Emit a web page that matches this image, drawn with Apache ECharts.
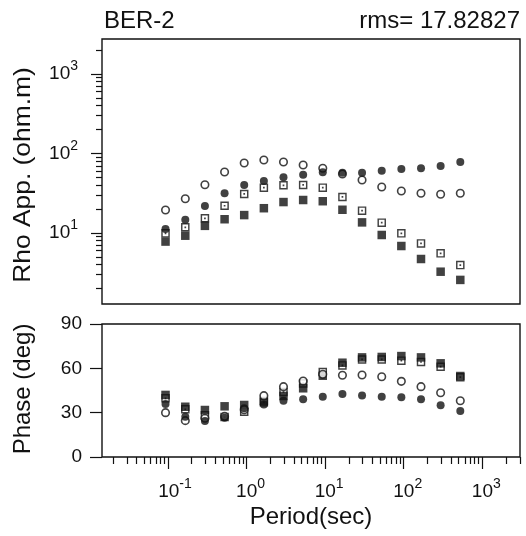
<!DOCTYPE html>
<html><head><meta charset="utf-8">
<script src="https://cdn.jsdelivr.net/npm/echarts@6/dist/echarts.min.js"></script>
<style>html,body{margin:0;padding:0;background:#fff}#c{width:526px;height:536px}</style>
</head><body><div id="c"></div>
<script>
// ---- data ----
const periods = [0.093,0.166,0.295,0.525,0.933,1.66,2.95,5.25,9.33,16.6,29.5,52.5,93.3,166,295,525];
const rhoOpenCircle   = [19.5,27.0,40.5,58.5,76.0,82.9,78.2,71.6,65.2,55.2,46.4,37.9,33.8,31.6,30.7,31.6];
const rhoFilledCircle = [11.2,14.7,21.9,31.6,40.2,45.1,50.2,54.1,58.0,57.3,57.3,60.8,63.8,65.2,69.7,78.2];
const rhoOpenSquare   = [9.9,11.8,15.3,22.0,31.0,37.2,39.8,40.2,37.2,28.4,19.1,13.5,9.9,7.4,5.55,3.95];
const rhoFilledSquare = [7.8,9.25,12.3,14.9,16.8,20.5,24.5,26.0,25.1,19.6,13.6,9.44,6.86,4.71,3.26,2.57];
const phaseOpenCircle   = [30,24.6,26.2,27.5,32,41.5,47.6,51.4,56,55.3,55.5,54.3,51.2,47.6,43.5,38.1];
const phaseFilledCircle = [35.9,27.3,24.4,26.6,33,35.6,38.1,39.0,40.8,42.6,41.7,40.8,40.4,39.0,35.0,31.1];
const phaseOpenSquare   = [39.7,32.3,28.2,27,30.7,37,44,49.8,57.5,62,66,66,65.2,64.3,61.1,54];
const phaseFilledSquare = [42,34,31.8,34.3,35.2,37.9,41.3,46.5,55,63.8,67.4,67.7,68.3,67.4,63.4,54.8];
const xDecades = [-1,0,1,2,3];       // period tick labels 10^n
const rhoDecades = [1,2,3];          // rho tick labels 10^n
const phaseTicks = [0,30,60,90];
const titleLeft = 'BER-2';
const titleRight = 'rms= 17.82827';

// ---- layout ----
const xMin = -1.84, xMax = 3.48, yMin = 0.107, yMax = 3.44;
const FONT = 'Liberation Sans';
const INK = '#111';

function minorLogs(lo, hi) {
  const out = [];
  for (let n = -3; n <= 4; n++) for (let k = 2; k <= 9; k++) {
    const v = n + Math.log10(k);
    if (v > lo && v < hi) out.push(v);
  }
  return out;
}
const lg = v => Math.log10(v);
const rhoPts = arr => periods.map((p, i) => [lg(p), lg(arr[i])]);
const phPts = arr => periods.map((p, i) => [lg(p), arr[i]]);

const sqDot = 'path://M0,0H10V10H0Z M1.7,1.7V8.3H8.3V1.7Z M4,4H6V6H4Z';

const richY = {
  b: {fontFamily: FONT, fontSize: 19, color: INK},
  s: {fontFamily: FONT, fontSize: 14, color: INK, padding: [0, 0, 15, 0]}
};
const richX = {
  bn: {fontFamily: FONT, fontSize: 19, color: INK, padding: [0, 0, 0, 14]},
  bp: {fontFamily: FONT, fontSize: 19, color: INK, padding: [0, 0, 0, 8]},
  s: {fontFamily: FONT, fontSize: 14, color: INK, padding: [0, 0, 15, 0]}
};
const tickStyle = {color: INK, width: 1.2};
const noLine = {show: false, onZero: false};

const chart = echarts.init(document.getElementById('c'));
const mk = (name, xi, yi, data, symbol, size, color, border) => ({
  name, type: 'scatter', xAxisIndex: xi, yAxisIndex: yi, data, symbol, symbolSize: size,
  silent: true, animation: false,
  itemStyle: border ? {color: '#fff', borderColor: INK, borderWidth: 1.6} : {color: color}
});

chart.setOption({
  animation: false,
  backgroundColor: '#fff',
  grid: [
    {left: 102, top: 39, width: 418, height: 265, show: true, borderColor: INK, borderWidth: 1.4, containLabel: false},
    {left: 102, top: 324, width: 418, height: 133, show: true, borderColor: INK, borderWidth: 1.4, containLabel: false}
  ],
  xAxis: [
    {gridIndex: 0, type: 'value', min: xMin, max: xMax, axisLine: noLine, axisTick: {show: false}, axisLabel: {show: false}, splitLine: {show: false}},
    {gridIndex: 1, type: 'value', min: xMin, max: xMax, position: 'bottom', axisLine: noLine,
      axisTick: {show: true, inside: false, length: 12, customValues: xDecades, lineStyle: tickStyle},
      axisLabel: {customValues: xDecades, margin: 20, rich: richX,
        formatter: v => { const e = Math.round(v); return (e < 0 ? '{bn|10}' : '{bp|10}') + '{s|' + e + '}'; }},
      splitLine: {show: false}},
    {gridIndex: 1, type: 'value', min: xMin, max: xMax, position: 'bottom', axisLine: noLine,
      axisTick: {show: true, inside: false, length: 7, customValues: minorLogs(xMin, xMax), lineStyle: tickStyle},
      axisLabel: {show: false}, splitLine: {show: false}}
  ],
  yAxis: [
    {gridIndex: 0, type: 'value', min: yMin, max: yMax, position: 'left', axisLine: noLine,
      axisTick: {show: true, inside: false, length: 11, customValues: rhoDecades, lineStyle: tickStyle},
      axisLabel: {customValues: rhoDecades, margin: 24, rich: richY,
        formatter: v => '{b|10}{s|' + Math.round(v) + '}'},
      splitLine: {show: false}},
    {gridIndex: 0, type: 'value', min: yMin, max: yMax, position: 'left', axisLine: noLine,
      axisTick: {show: true, inside: false, length: 6, customValues: minorLogs(yMin, yMax), lineStyle: tickStyle},
      axisLabel: {show: false}, splitLine: {show: false}},
    {gridIndex: 1, type: 'value', min: 0, max: 90, interval: 30, position: 'left', axisLine: noLine,
      axisTick: {show: true, inside: false, length: 12, customValues: phaseTicks, lineStyle: tickStyle},
      axisLabel: {customValues: phaseTicks, margin: 20, fontFamily: FONT, fontSize: 19, color: INK},
      splitLine: {show: false}}
  ],
  series: [
    mk('rho open square', 0, 0, rhoPts(rhoOpenSquare), sqDot, 8.5, INK),
    mk('rho filled square', 0, 0, rhoPts(rhoFilledSquare), 'rect', 8.5, INK),
    mk('rho open circle', 0, 0, rhoPts(rhoOpenCircle), 'circle', 7.5, null, true),
    mk('rho filled circle', 0, 0, rhoPts(rhoFilledCircle), 'circle', 8, INK),
    mk('phase open square', 1, 2, phPts(phaseOpenSquare), sqDot, 8.5, INK),
    mk('phase filled square', 1, 2, phPts(phaseFilledSquare), 'rect', 8.5, INK),
    mk('phase open circle', 1, 2, phPts(phaseOpenCircle), 'circle', 7.5, null, true),
    mk('phase filled circle', 1, 2, phPts(phaseFilledCircle), 'circle', 8, INK)
  ],
  graphic: [
    {type: 'text', left: 104, top: 9, style: {text: titleLeft, fontFamily: FONT, fontSize: 24, fill: INK}},
    {type: 'text', right: 6, top: 9, style: {text: titleRight, fontFamily: FONT, fontSize: 24, fill: INK}},
    {type: 'text', x: 23, y: 175, rotation: Math.PI / 2, scaleX: 1.1,
      style: {text: 'Rho App. (ohm.m)', fontFamily: FONT, fontSize: 24, fill: INK, align: 'center', verticalAlign: 'middle'}},
    {type: 'text', x: 23, y: 389, rotation: Math.PI / 2,
      style: {text: 'Phase (deg)', fontFamily: FONT, fontSize: 24, fill: INK, align: 'center', verticalAlign: 'middle'}},
    {type: 'text', x: 311, y: 517,
      style: {text: 'Period(sec)', fontFamily: FONT, fontSize: 24, fill: INK, align: 'center', verticalAlign: 'middle'}}
  ]
});
</script></body></html>
